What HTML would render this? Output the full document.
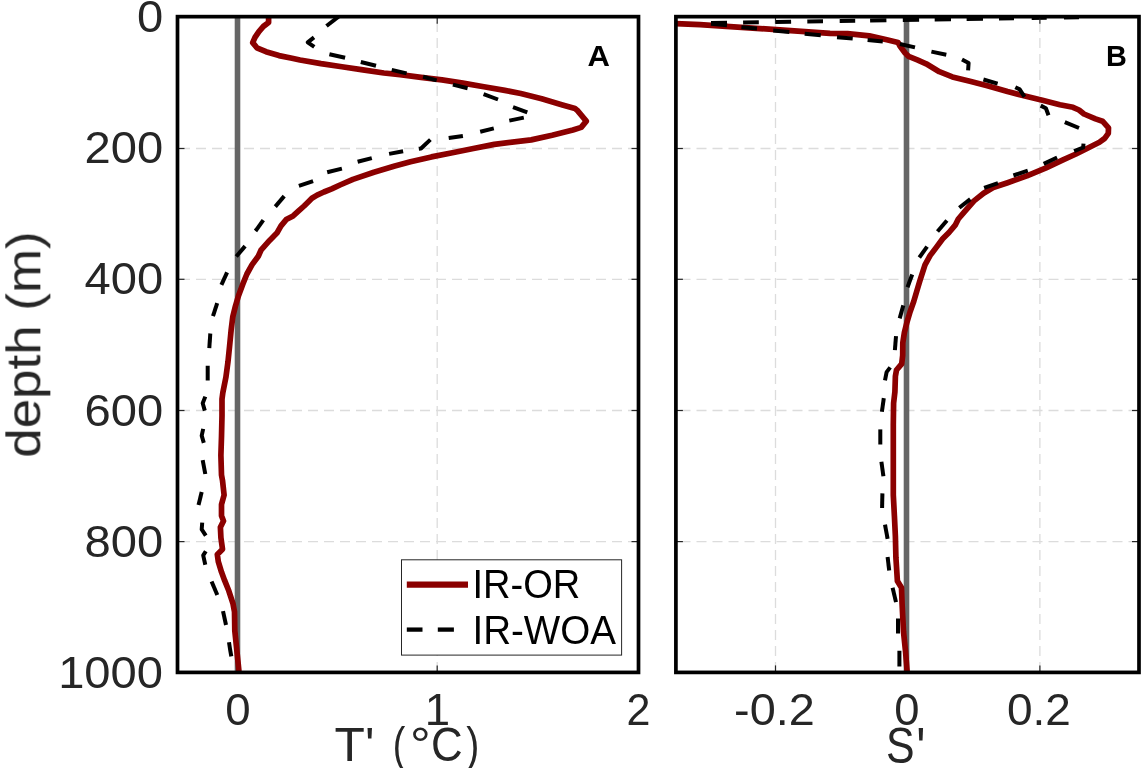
<!DOCTYPE html>
<html><head><meta charset="utf-8"><style>
html,body{margin:0;padding:0;background:#fff;width:1145px;height:768px;overflow:hidden}
svg{display:block}
text{font-family:"Liberation Sans",sans-serif}
.txt{will-change:transform}
</style></head><body>
<svg width="1145" height="768" viewBox="0 0 1145 768">
<rect width="1145" height="768" fill="#fff"/>

<g stroke="#dcdcdc" stroke-width="1.3" stroke-dasharray="10 6" stroke-dashoffset="-0.5"><line x1="638.5" y1="148.50" x2="177.5" y2="148.50"/><line x1="1139.0" y1="148.50" x2="675.9" y2="148.50"/><line x1="638.5" y1="279.30" x2="177.5" y2="279.30"/><line x1="1139.0" y1="279.30" x2="675.9" y2="279.30"/><line x1="638.5" y1="410.50" x2="177.5" y2="410.50"/><line x1="1139.0" y1="410.50" x2="675.9" y2="410.50"/><line x1="638.5" y1="541.60" x2="177.5" y2="541.60"/><line x1="1139.0" y1="541.60" x2="675.9" y2="541.60"/><line x1="437.20" y1="672.4" x2="437.20" y2="16.65"/><line x1="775.50" y1="672.4" x2="775.50" y2="16.65"/><line x1="1039.90" y1="672.4" x2="1039.90" y2="16.65"/></g>
<g stroke="#666" stroke-width="5.6"><line x1="237.5" y1="16.65" x2="237.5" y2="672.40"/><line x1="906.5" y1="16.65" x2="906.5" y2="672.40"/></g>
<defs><clipPath id="ca"><rect x="177.5" y="16.6" width="461.0" height="655.8"/></clipPath><clipPath id="cb"><rect x="675.9" y="16.6" width="463.1" height="655.8"/></clipPath></defs>
<g clip-path="url(#ca)" fill="none" stroke-linejoin="round">
<polyline points="268.6,14.0 268.6,22.5 263.4,26.4 258.9,31.6 255.0,37.4 252.7,42.6 256.9,47.8 266.0,51.7 279.0,55.6 292.0,58.2 300.0,60.0 321.0,63.6 341.9,66.7 362.9,69.9 383.9,73.0 400.0,74.7 421.0,77.3 441.9,79.9 462.9,83.1 483.9,86.7 504.8,90.4 520.8,93.5 541.7,98.8 562.5,105.0 575.0,108.6 577.1,110.2 586.3,121.1 581.2,127.4 572.9,130.0 552.1,135.2 531.2,139.9 494.3,144.4 473.4,148.5 452.4,152.7 431.4,156.9 410.5,161.8 394.8,166.0 373.9,172.3 352.9,179.4 340.0,185.0 331.7,188.9 323.9,192.0 317.1,195.1 311.9,198.2 308.2,201.9 304.1,206.0 298.9,210.7 293.1,215.9 286.2,219.6 281.0,225.8 276.9,233.1 269.6,240.4 261.2,249.8 258.3,256.2 252.1,264.6 246.9,274.0 242.7,284.4 238.5,295.8 235.4,306.2 232.8,316.7 231.1,330.4 229.6,346.0 228.0,361.7 225.9,377.3 222.8,392.9 222.0,399.2 222.0,415.8 221.5,436.7 220.9,455.4 221.5,475.0 222.5,480.4 224.1,495.0 221.5,504.4 221.5,515.8 223.5,521.0 220.4,527.3 220.9,537.7 222.5,549.2 217.3,554.4 218.3,561.7 221.5,572.1 224.6,580.4 228.8,590.8 232.9,603.3 234.5,611.7 234.8,630.6 236.4,646.2 238.0,661.9 238.8,669.7 239.0,676.0" stroke="#8b0000" stroke-width="5.7"/>
<g stroke="#000" stroke-width="4.0" stroke-linecap="butt"><polyline points="338.5,16.7 326.5,26.0"/><polyline points="314.0,37.4 307.7,42.3 314.3,46.8"/><polyline points="329.4,54.2 345.1,57.8"/><polyline points="360.8,62.0 376.0,65.7"/><polyline points="391.7,69.9 406.6,73.4"/><polyline points="423.1,76.8 436.7,80.4"/><polyline points="452.9,84.6 467.6,88.3"/><polyline points="483.6,94.1 498.0,99.5"/><polyline points="513.0,107.1 527.3,112.4"/><polyline points="523.8,117.6 509.3,120.6"/><polyline points="493.8,128.4 480.2,131.8"/><polyline points="462.9,136.0 448.7,138.1"/><polyline points="430.4,139.6 421.0,148.5 418.8,148.8"/><polyline points="403.1,151.2 389.1,153.9"/><polyline points="371.8,158.1 357.6,161.8"/><polyline points="341.9,168.6 327.2,172.3"/><polyline points="313.1,181.2 298.9,185.9"/><polyline points="284.2,196.1 275.3,206.6"/><polyline points="263.3,220.1 255.5,231.0"/><polyline points="245.1,246.1 236.3,256.5"/><polyline points="227.1,272.4 221.4,284.9"/><polyline points="217.2,303.1 213.0,316.1"/><polyline points="210.3,333.5 209.3,348.1"/><polyline points="207.7,365.8 207.7,380.4"/><polyline points="205.3,396.6 202.7,403.3 204.8,410.6"/><polyline points="203.2,428.9 201.7,435.6 203.8,442.9"/><polyline points="202.7,460.1 205.3,474.0"/><polyline points="201.7,491.9 198.5,504.9"/><polyline points="202.2,522.6 201.7,529.4 205.8,535.6"/><polyline points="205.8,551.2 203.2,555.4 205.3,564.8"/><polyline points="211.6,581.5 217.3,595.0"/><polyline points="223.0,611.1 226.0,625.0"/><polyline points="229.0,642.3 230.2,650.2 231.3,656.4"/></g>
</g>
<g clip-path="url(#cb)" fill="none" stroke-linejoin="round">
<polyline points="600.0,19.5 676.0,23.6 700.0,24.7 730.0,26.6 780.0,29.9 830.0,33.3 847.5,33.7 869.3,35.9 886.8,39.8 898.1,42.5 899.9,46.0 905.1,53.0 908.6,56.4 917.3,59.9 926.2,63.8 939.3,71.7 952.4,76.9 969.9,81.3 987.3,85.7 1007.5,91.6 1024.9,96.0 1042.4,100.3 1059.9,104.7 1073.0,107.3 1079.0,110.0 1084.0,114.0 1095.5,118.9 1102.5,121.2 1108.5,127.8 1108.3,133.4 1104.7,138.4 1099.4,142.3 1089.0,147.5 1076.0,154.0 1063.0,159.9 1046.1,167.8 1026.9,175.9 1007.6,182.7 993.2,187.5 983.6,193.2 974.0,200.9 964.6,211.7 958.3,219.0 955.2,225.2 949.0,232.5 942.7,238.8 936.5,247.1 930.2,255.4 925.0,264.8 920.0,280.4 916.9,290.8 913.8,301.2 910.1,311.7 907.0,322.1 904.4,332.5 902.8,342.9 902.7,355.4 901.7,363.8 896.5,370.0 895.4,376.2 894.9,391.9 893.6,403.3 893.3,425.0 893.3,495.0 894.4,515.8 895.4,536.7 895.9,557.5 896.7,570.0 897.4,581.0 901.5,587.8 902.1,604.2 903.5,631.6 905.6,652.1 907.0,670.0 907.2,676.0" stroke="#8b0000" stroke-width="5.7"/>
<g stroke="#000" stroke-width="4.0" stroke-linecap="butt"><polyline points="1079.0,17.3 1064.0,17.5"/><polyline points="1046.7,17.8 1031.7,18.0"/><polyline points="1014.0,18.3 999.0,18.5"/><polyline points="983.0,18.8 966.6,19.0"/><polyline points="951.0,19.3 934.7,19.5"/><polyline points="919.1,19.8 902.8,20.0"/><polyline points="886.4,20.3 870.1,20.5"/><polyline points="855.2,20.8 839.7,21.0"/><polyline points="823.0,21.3 807.3,21.5"/><polyline points="791.1,21.8 775.4,22.0"/><polyline points="758.8,22.3 743.1,22.5"/><polyline points="727.0,22.8 711.0,23.0"/><polyline points="711.0,23.7 727.0,25.3"/><polyline points="741.4,27.2 757.0,28.6"/><polyline points="773.2,30.6 789.4,32.0"/><polyline points="804.7,33.8 820.8,35.2"/><polyline points="837.0,37.3 852.7,38.5"/><polyline points="867.6,40.0 882.8,41.4"/><polyline points="899.9,44.0 915.0,47.4"/><polyline points="931.4,51.6 946.3,54.7"/><polyline points="962.0,59.5 968.6,63.0 968.1,70.4"/><polyline points="983.4,79.5 997.6,83.6"/><polyline points="1015.3,87.2 1019.7,89.4 1024.5,96.8"/><polyline points="1040.7,105.6 1045.9,108.2 1048.5,115.2"/><polyline points="1064.8,122.2 1079.0,128.0"/><polyline points="1083.5,143.6 1083.2,147.5 1074.1,151.1"/><polyline points="1057.1,157.5 1043.7,163.9"/><polyline points="1027.8,170.7 1013.4,175.5"/><polyline points="998.0,183.1 984.1,187.9"/><polyline points="970.3,199.1 959.3,207.8"/><polyline points="946.9,220.5 937.5,231.5"/><polyline points="927.1,246.6 919.3,257.5"/><polyline points="912.2,274.5 907.5,287.2"/><polyline points="903.3,305.4 899.7,318.4"/><polyline points="896.0,336.1 894.9,350.2"/><polyline points="890.2,367.4 886.6,372.1 885.0,380.4"/><polyline points="883.8,398.1 881.9,411.7"/><polyline points="880.3,429.4 880.3,444.5"/><polyline points="881.4,461.7 883.4,476.2"/><polyline points="882.4,493.4 882.1,508.0"/><polyline points="885.0,524.7 887.6,538.8"/><polyline points="887.6,557.0 889.2,570.5"/><polyline points="892.6,587.8 896.0,602.1"/><polyline points="898.0,618.6 898.0,633.6"/><polyline points="899.4,650.7 899.4,666.4"/></g>
</g>
<g stroke="#262626" stroke-width="1.2"><line x1="177.5" y1="148.50" x2="184.5" y2="148.50"/><line x1="638.5" y1="148.50" x2="631.5" y2="148.50"/><line x1="177.5" y1="279.30" x2="184.5" y2="279.30"/><line x1="638.5" y1="279.30" x2="631.5" y2="279.30"/><line x1="177.5" y1="410.50" x2="184.5" y2="410.50"/><line x1="638.5" y1="410.50" x2="631.5" y2="410.50"/><line x1="177.5" y1="541.60" x2="184.5" y2="541.60"/><line x1="638.5" y1="541.60" x2="631.5" y2="541.60"/><line x1="675.9" y1="148.50" x2="682.9" y2="148.50"/><line x1="1139.0" y1="148.50" x2="1132.0" y2="148.50"/><line x1="675.9" y1="279.30" x2="682.9" y2="279.30"/><line x1="1139.0" y1="279.30" x2="1132.0" y2="279.30"/><line x1="675.9" y1="410.50" x2="682.9" y2="410.50"/><line x1="1139.0" y1="410.50" x2="1132.0" y2="410.50"/><line x1="675.9" y1="541.60" x2="682.9" y2="541.60"/><line x1="1139.0" y1="541.60" x2="1132.0" y2="541.60"/><line x1="437.20" y1="16.65" x2="437.20" y2="23.65"/><line x1="437.20" y1="672.40" x2="437.20" y2="665.40"/><line x1="775.50" y1="16.65" x2="775.50" y2="23.65"/><line x1="775.50" y1="672.40" x2="775.50" y2="665.40"/><line x1="1039.90" y1="16.65" x2="1039.90" y2="23.65"/><line x1="1039.90" y1="672.40" x2="1039.90" y2="665.40"/></g>
<g fill="none" stroke="#000" stroke-width="3.7" stroke-linejoin="miter"><rect x="177.5" y="16.65" width="461.0" height="655.75"/><rect x="675.9" y="16.65" width="463.1" height="655.75"/></g>
<rect x="401.5" y="559.8" width="220.1" height="95.3" fill="#fff" stroke="#262626" stroke-width="1"/>
<line x1="406.8" y1="584.6" x2="468" y2="584.6" stroke="#8b0000" stroke-width="6.3"/>
<line x1="406.8" y1="629.6" x2="422.5" y2="629.6" stroke="#000" stroke-width="4.3"/><line x1="437.8" y1="629.6" x2="453.9" y2="629.6" stroke="#000" stroke-width="4.3"/>
<g class="txt"><text transform="translate(136.88,32.10) scale(0.4715,0.4479)" font-size="100" fill="#262626">0</text>
<text transform="translate(84.55,163.25) scale(0.4715,0.4479)" font-size="100" fill="#262626">200</text>
<text transform="translate(84.55,294.40) scale(0.4715,0.4479)" font-size="100" fill="#262626">400</text>
<text transform="translate(84.55,425.55) scale(0.4715,0.4479)" font-size="100" fill="#262626">600</text>
<text transform="translate(84.55,556.70) scale(0.4715,0.4479)" font-size="100" fill="#262626">800</text>
<text transform="translate(58.14,687.85) scale(0.4715,0.4479)" font-size="100" fill="#262626">1000</text>
<text transform="translate(225.18,724.95) scale(0.4563,0.4521)" font-size="100" fill="#262626">0</text>
<text transform="translate(424.65,724.95) scale(0.4558,0.4521)" font-size="100" fill="#262626">1</text>
<text transform="translate(626.45,724.95) scale(0.4304,0.4521)" font-size="100" fill="#262626">2</text>
<text transform="translate(734.03,724.95) scale(0.4687,0.4521)" font-size="100" fill="#262626">-0.2</text>
<text transform="translate(894.18,724.95) scale(0.4542,0.4521)" font-size="100" fill="#262626">0</text>
<text transform="translate(1006.96,724.95) scale(0.4600,0.4521)" font-size="100" fill="#262626">0.2</text>
<text transform="translate(334.61,761.10) scale(0.4973,0.4740)" font-size="100" fill="#262626">T'</text>
<text transform="translate(392.84,761.10) scale(0.3769,0.4740)" font-size="100" fill="#262626">(</text>
<text transform="translate(410.09,761.10) scale(0.5179,0.4740)" font-size="100" fill="#262626">°</text>
<text transform="translate(431.01,761.10) scale(0.4381,0.4740)" font-size="100" fill="#262626">C</text>
<text transform="translate(466.31,761.10) scale(0.3923,0.4740)" font-size="100" fill="#262626">)</text>
<text transform="translate(885.96,763.00) scale(0.4281,0.4972)" font-size="100" fill="#262626">S</text>
<text transform="translate(916.33,767.52) scale(0.4833,0.5727)" font-size="100" fill="#262626">'</text>
<text transform="translate(40.1,457.72) rotate(-90) scale(0.5292,0.4808)" font-size="100" fill="#262626">depth (m)</text>
<text transform="translate(587.57,66.40) scale(0.3106,0.2971)" font-size="100" font-weight="bold" fill="#000">A</text>
<text transform="translate(1106.08,66.10) scale(0.2885,0.2971)" font-size="100" font-weight="bold" fill="#000">B</text>
<text transform="translate(472.47,597.50) scale(0.3807,0.4058)" font-size="100" fill="#000">IR-OR</text>
<text transform="translate(472.43,643.60) scale(0.3860,0.4014)" font-size="100" fill="#000">IR-WOA</text></g>
</svg></body></html>
